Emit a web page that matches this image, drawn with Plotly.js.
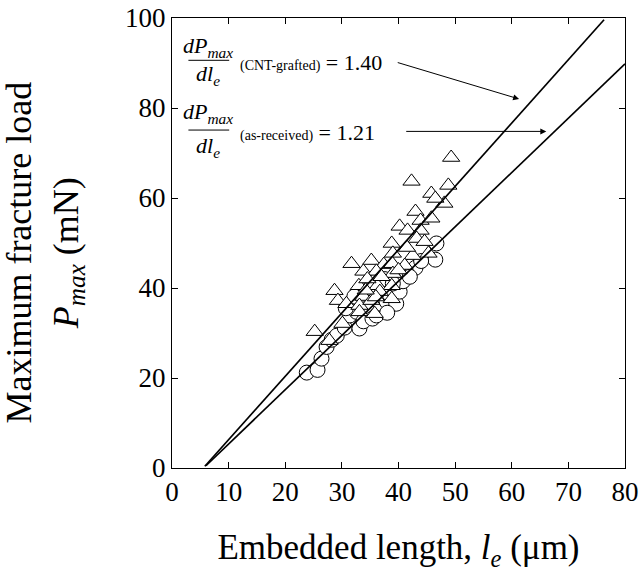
<!DOCTYPE html>
<html>
<head>
<meta charset="utf-8">
<script src="https://cdn.plot.ly/plotly-3.0.1.min.js"></script>
<style>html,body{margin:0;padding:0;background:#fff;}</style>
</head>
<body>
<div id="chart" style="width:641px;height:585px;"></div>
<script>
// As-received fibres (circles)
const asReceivedX = [23.8,25.7,26.4,27.3,28.2,29.1,30.5,31.4,32.6,33.1,33.8,34.5,35.4,36.1,36.8,37.9,38.5,39.6,40.2,40.8,41.4,42.3,43.0,46.7,46.5,37.5,35.0,32.2,30.7,39.0,44.0,42.0,38.0];
const asReceivedY = [21.2,21.8,24.3,26.9,28.5,29.4,31.2,33.9,34.7,31.0,32.6,35.5,33.2,33.9,36.5,37.0,38.5,36.5,39.2,41.5,43.7,45.0,44.5,49.9,46.3,42.0,40.0,38.1,35.5,41.0,46.0,42.5,34.5];
// CNT-grafted fibres (triangles)
const cntX = [49.3,42.3,48.8,45.8,48.1,46.5,43.0,43.9,45.8,40.2,41.6,43.9,43.2,38.8,44.6,42.5,45.3,39.0,31.7,35.2,37.4,38.9,41.1,33.8,36.1,39.0,33.0,36.3,38.8,28.7,29.3,33.8,36.7,30.8,33.1,35.2,38.8,33.1,35.8,30.1,25.2,27.8,34.5,37.0,40.0,41.5,36.0,34.2];
const cntY = [69.0,63.7,62.8,61.0,58.8,59.9,57.0,55.0,55.5,53.7,52.8,52.8,51.0,49.9,50.3,47.2,47.7,47.7,45.4,46.1,45.2,45.4,45.0,43.7,43.7,43.2,40.5,40.5,40.5,39.4,37.2,38.1,39.2,36.5,36.1,37.2,37.6,34.7,34.3,32.1,30.3,28.3,42.0,42.5,44.0,49.0,38.0,39.5];
// Linear fits (end points of fitted lines)
const fitCntX = [5.8, 76.3];
const fitCntY = [0.4, 99.6];
const fitArX = [6.0, 80.0];
const fitArY = [0.5, 89.8];
// Slopes shown in annotations
const slopeLabels = ["(CNT-grafted)", "(as-received)"];
const slopeValues = ["1.40", "1.21"];
const xTicks = [0,10,20,30,40,50,60,70,80];
const yTicks = [0,20,40,60,80,100];

const FONT = "Liberation Serif, Times New Roman, serif";

const traces = [
  {x: asReceivedX, y: asReceivedY, mode: 'markers', type: 'scatter',
   marker: {symbol: 'circle', size: 15, color: '#fff', line: {color: '#000', width: 1}}},
  {x: cntX, y: cntY, mode: 'markers', type: 'scatter',
   marker: {symbol: 'triangle-up', size: 15, color: '#fff', line: {color: '#000', width: 1}}},
  {x: fitCntX, y: fitCntY, mode: 'lines', type: 'scatter', line: {color: '#000', width: 1.7}},
  {x: fitArX, y: fitArY, mode: 'lines', type: 'scatter', line: {color: '#000', width: 1.7}}
];

const frac = (yNum, yDen) => [
  {x: 6.4, y: yNum, xref: 'x', yref: 'y', showarrow: false, xanchor: 'center', yanchor: 'middle',
   text: '<i>dP</i><sub><i>max</i></sub>', font: {family: FONT, size: 22, color: '#000'}},
  {x: 6.4, y: yDen, xref: 'x', yref: 'y', showarrow: false, xanchor: 'center', yanchor: 'middle',
   text: '<i>dl</i><sub><i>e</i></sub>', font: {family: FONT, size: 22, color: '#000'}}
];

const annotations = [
  ...frac(93.5, 87.3),
  {x: 11.6, y: 90.2, xref: 'x', yref: 'y', showarrow: false, xanchor: 'left', yanchor: 'middle',
   text: '<span style="font-size:14px">' + slopeLabels[0] + '</span> = ' + slopeValues[0],
   font: {family: FONT, size: 22, color: '#000'}},
  ...frac(79.0, 71.3),
  {x: 11.6, y: 74.6, xref: 'x', yref: 'y', showarrow: false, xanchor: 'left', yanchor: 'middle',
   text: '<span style="font-size:14px">' + slopeLabels[1] + '</span> = ' + slopeValues[1],
   font: {family: FONT, size: 22, color: '#000'}},
  {x: 61.3, y: 82.0, ax: 39.6, ay: 90.2, xref: 'x', yref: 'y', axref: 'x', ayref: 'y',
   showarrow: true, arrowhead: 2, arrowsize: 1.2, arrowwidth: 1, arrowcolor: '#000', text: ''},
  {x: 66.1, y: 74.8, ax: 41.1, ay: 74.8, xref: 'x', yref: 'y', axref: 'x', ayref: 'y',
   showarrow: true, arrowhead: 2, arrowsize: 1.2, arrowwidth: 1, arrowcolor: '#000', text: ''},
  // y-axis title (two lines, rotated)
  {x: -0.281, y: 0.478, xref: 'paper', yref: 'paper', showarrow: false, textangle: -90,
   xanchor: 'center', yanchor: 'middle',
   text: 'Maximum fracture load<br><i>P</i><sub><i>max</i></sub> (mN)',
   font: {family: FONT, size: 36, color: '#000'}}
];

const shapes = [
  {type: 'line', xref: 'x', yref: 'y', x0: 2.9, x1: 10.1, y0: 90.6, y1: 90.6, line: {color: '#000', width: 1}},
  {type: 'line', xref: 'x', yref: 'y', x0: 2.9, x1: 10.1, y0: 75.1, y1: 75.1, line: {color: '#000', width: 1}}
];

const axisCommon = {
  showline: true, linecolor: '#000', linewidth: 1, mirror: 'ticks',
  ticks: 'inside', ticklen: 6, tickwidth: 1, tickcolor: '#000',
  showgrid: false, zeroline: false,
  tickfont: {family: FONT, size: 27, color: '#000'}
};

const layout = {
  width: 641, height: 585,
  margin: {l: 172, r: 16, t: 18, b: 117},
  paper_bgcolor: '#fff', plot_bgcolor: '#fff',
  showlegend: false,
  xaxis: Object.assign({}, axisCommon, {
    range: [0, 80], tickvals: xTicks, ticktext: xTicks.map(String),
    title: {text: 'Embedded length, <i>l</i><sub><i>e</i></sub> (μm)', standoff: 28,
            font: {family: FONT, size: 35, color: '#000'}}
  }),
  yaxis: Object.assign({}, axisCommon, {
    range: [0, 100], tickvals: yTicks, ticktext: yTicks.map(String)
  }),
  annotations: annotations,
  shapes: shapes
};

Plotly.newPlot('chart', traces, layout, {staticPlot: true, displayModeBar: false});
</script>
</body>
</html>
